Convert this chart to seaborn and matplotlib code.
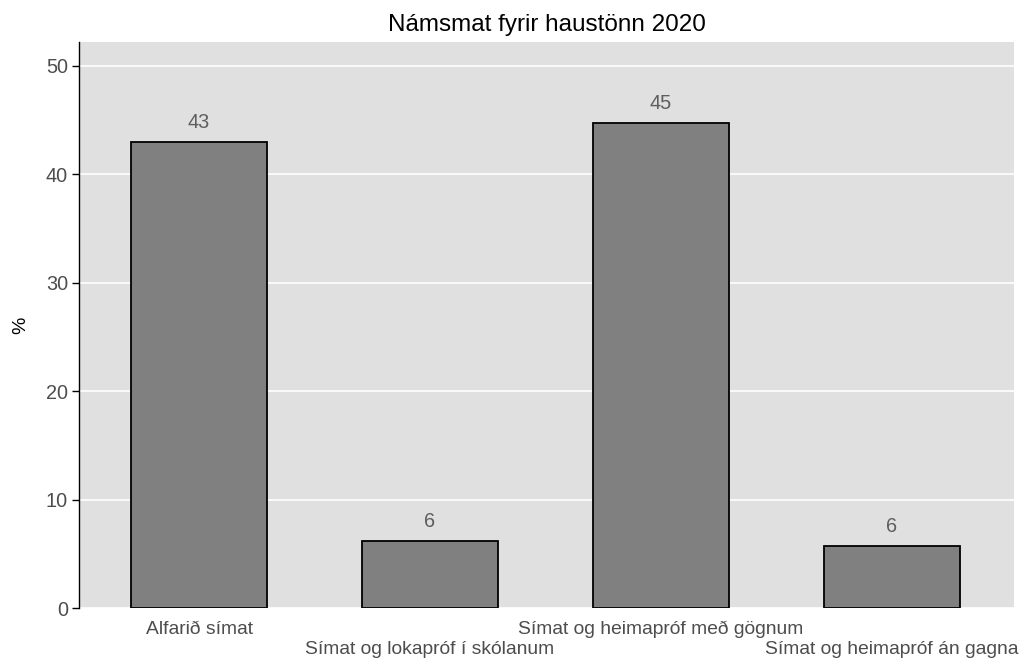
import matplotlib
matplotlib.use("Agg")
import matplotlib.pyplot as plt
import seaborn as sns
import pandas as pd

categories = ["Alfarið símat", "Símat og lokapróf í skólanum",
              "Símat og heimapróf með gögnum", "Símat og heimapróf án gagna"]
values = [43.0, 6.2, 44.7, 5.7]
title = "Námsmat fyrir haustönn 2020"
ylabel = "%"
yticks = [0, 10, 20, 30, 40, 50]

df = pd.DataFrame({"cat": categories, "val": values})

sns.set_theme(style="white")
plt.rcParams["font.family"] = ["Liberation Sans", "DejaVu Sans"]

fig = plt.figure(figsize=(10.27, 6.62), dpi=100)
ax = fig.add_axes([79/1027, 1-608/662, (1014-79)/1027, (608-42)/662])
ax.set_facecolor("#E0E0E0")

sns.barplot(data=df, x="cat", y="val", color="#808080", saturation=1,
            width=0.59, edgecolor="black", linewidth=1.3, ax=ax, zorder=3)

ax.set_ylim(0, 52.2)
ax.set_xlim(-0.52, 3.53)
ax.set_yticks(yticks)
ax.yaxis.grid(True, color="white", linewidth=1.2, zorder=0)
ax.xaxis.grid(False)
ax.set_axisbelow(True)

for s in ["top", "right", "bottom"]:
    ax.spines[s].set_visible(False)
ax.spines["left"].set_color("black")
ax.spines["left"].set_linewidth(1.0)

ax.tick_params(axis="y", left=True, length=5, width=1, color="black",
               labelsize=14.3, labelcolor="#4D4D4D", pad=3)
ax.tick_params(axis="x", bottom=False, labelsize=13.9, labelcolor="#4D4D4D", pad=3)
ax.set_xticks(range(len(categories)))
ax.set_xticklabels(categories)
for i, tk in enumerate(ax.xaxis.get_major_ticks()):
    if i % 2 == 1:
        tk.set_pad(3 + 15)

for i, v in enumerate(values):
    ax.text(i, v + 1.3, f"{round(v):.0f}", ha="center", va="baseline",
            fontsize=14.3, color="#5E5E5E")

ax.set_xlabel("")
ax.set_ylabel(ylabel, fontsize=14, color="black", labelpad=12)
ax.set_title(title, fontsize=17.5, color="black", pad=8)

fig.savefig("out.png", dpi=100)
